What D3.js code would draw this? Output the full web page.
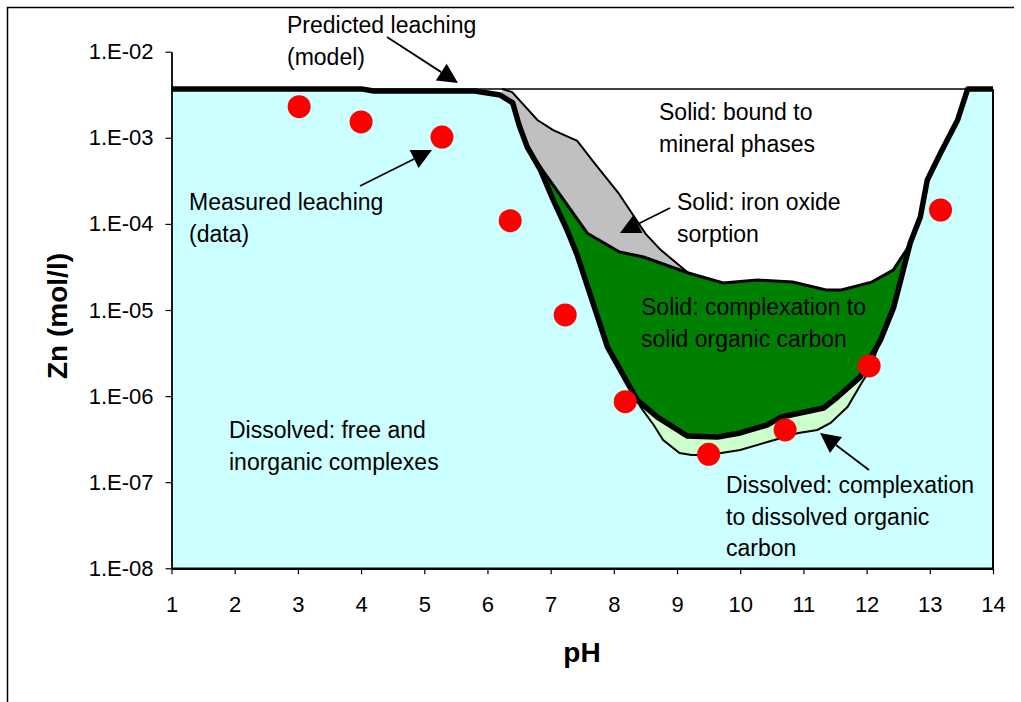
<!DOCTYPE html>
<html>
<head>
<meta charset="utf-8">
<script src="https://cdn.jsdelivr.net/npm/d3@7"></script>
<style>
  body { margin: 0; background: #fff; }
  svg text { font-family: "Liberation Sans", Arial, sans-serif; fill: #000; }
</style>
</head>
<body>
<svg id="chart" width="1021" height="702"></svg>
<script>
// measured leaching (red dots)
var measuredPH = [3.02, 4.0, 5.28, 6.36, 7.23, 8.18, 9.5, 10.71, 12.04, 13.17];
var measuredZn = [2.3e-3, 1.53e-3, 1.02e-3, 1.09e-4, 8.75e-6, 8.6e-7, 2.11e-7, 4.04e-7, 2.24e-6, 1.45e-4];

// predicted leaching (model) = total dissolved, thick line
var predictedPH = [1, 4.0, 4.2, 5.8, 6.2, 6.4, 6.5, 6.63, 6.84, 7.04, 7.26, 7.42, 7.9, 8.37, 8.69, 9.16,
  9.64, 10.0, 10.43, 10.65, 11.32, 11.54, 11.9, 12.22, 12.43, 12.69, 12.85, 12.96, 13.17, 13.44, 13.6, 14];
var predictedZn = [3.7e-3, 3.7e-3, 3.5e-3, 3.5e-3, 3.14e-3, 2.54e-3, 1.41e-3, 7.8e-4, 4.2e-4, 1.9e-4, 8.5e-5, 4.35e-5,
  3.7e-6, 9.0e-7, 5.7e-7, 3.44e-7, 3.35e-7, 3.73e-7, 4.62e-7, 5.72e-7, 7.28e-7, 9.76e-7, 1.67e-6, 4.48e-6,
  1.08e-5, 6.0e-5, 1.2e-4, 3.24e-4, 6.66e-4, 1.61e-3, 3.7e-3, 3.7e-3];

// dissolved free + inorganic (top of cyan), where it departs from the model line
var freePH = [8.37, 8.42, 8.63, 8.78, 9.04, 9.23, 9.5, 10.0, 10.43, 10.92, 11.22, 11.43, 11.7, 11.92, 12.05, 12.22];
var freeZn = [9.0e-7, 7.5e-7, 4.62e-7, 3.09e-7, 2.18e-7, 2.07e-7, 2.07e-7, 2.37e-7, 2.93e-7, 3.73e-7, 4.04e-7,
  4.87e-7, 7.51e-7, 1.42e-6, 2.01e-6, 4.48e-6];

// solid: complexation to solid organic carbon (top of green)
var solidOrgPH = [6.7, 7.58, 8.09, 8.47, 9.18, 9.73, 10.27, 10.83, 11.36, 11.6, 12.08, 12.42, 12.63, 12.69];
var solidOrgZn = [6.35e-4, 7.8e-5, 4.72e-5, 4.13e-5, 2.69e-5, 2.06e-5, 2.23e-5, 2.11e-5, 1.71e-5, 1.71e-5,
  2.11e-5, 2.91e-5, 4.98e-5, 6.0e-5];

// solid: iron oxide sorption (top of grey)
var ironPH = [6.23, 6.39, 6.79, 7.04, 7.42, 7.69, 8.07, 8.5, 8.74, 9.18];
var ironZn = [3.7e-3, 3.4e-3, 1.61e-3, 1.23e-3, 9.2e-4, 5.1e-4, 2.3e-4, 7.7e-5, 5.0e-5, 2.69e-5];

// total (solid bound to mineral phases fills up to here)
var totalPH = [1, 14];
var totalZn = [3.7e-3, 3.7e-3];

var yTicks = [1e-2, 1e-3, 1e-4, 1e-5, 1e-6, 1e-7, 1e-8];
var xTicks = [1, 2, 3, 4, 5, 6, 7, 8, 9, 10, 11, 12, 13, 14];

var svg = d3.select("#chart");

var x = d3.scaleLinear().domain([1, 14]).range([171.5, 993]);
var y = d3.scaleLog().domain([1e-8, 1e-2]).range([568.3, 51.7]);

var zip = function(ph, zn) {
  return ph.map(function(p, i) { return [p, zn[i]]; });
};
var line = d3.line()
  .x(function(d) { return x(d[0]); })
  .y(function(d) { return y(d[1]); });

// polygon from a boundary down to the bottom of the plot
var downTo = function(pts) {
  var p = pts.slice();
  p.push([pts[pts.length - 1][0], 1e-8]);
  p.push([pts[0][0], 1e-8]);
  return line(p) + "Z";
};

var total = zip(totalPH, totalZn),
    iron = zip(ironPH, ironZn),
    solidOrg = zip(solidOrgPH, solidOrgZn),
    predicted = zip(predictedPH, predictedZn),
    free = zip(freePH, freeZn);

// chart frame
svg.append("path").attr("d", "M7.5,702V7.5H1014")
  .attr("fill", "none").attr("stroke", "#000").attr("stroke-width", 1.5);

// stacked regions, painted from the top layer down
svg.append("path").attr("d", downTo(total)).attr("fill", "#fff");
svg.append("path").attr("d", downTo(iron)).attr("fill", "#c0c0c0");
svg.append("path").attr("d", downTo(solidOrg)).attr("fill", "#008000");
svg.append("path").attr("d", downTo(predicted)).attr("fill", "#ccffff");

// DOC band between model line and free/inorganic line
var band = predicted.filter(function(d) { return d[0] >= freePH[0] && d[0] <= freePH[freePH.length - 1]; });
svg.append("path").attr("d", line(band.concat(free.slice().reverse())) + "Z").attr("fill", "#ccffcc");

// region borders
svg.append("path").attr("d", line(total)).attr("fill", "none").attr("stroke", "#000").attr("stroke-width", 1.5);
svg.append("path").attr("d", line([[14, totalZn[1]], [14, 1e-8]]))
  .attr("fill", "none").attr("stroke", "#000").attr("stroke-width", 2);
svg.append("path").attr("d", line(iron)).attr("fill", "none").attr("stroke", "#000").attr("stroke-width", 2);
svg.append("path").attr("d", line(solidOrg)).attr("fill", "none").attr("stroke", "#000").attr("stroke-width", 3);
svg.append("path").attr("d", line(free)).attr("fill", "none").attr("stroke", "#000").attr("stroke-width", 2);
svg.append("path").attr("d", line(predicted)).attr("fill", "none").attr("stroke", "#000")
  .attr("stroke-width", 5.5).attr("stroke-linejoin", "round");

// axes
var yAxis = svg.append("g").attr("transform", "translate(171.5,0)")
  .call(d3.axisLeft(y).tickValues(yTicks).tickSize(6).tickSizeOuter(0).tickPadding(12)
    .tickFormat(function(d) { return "1.E-" + d3.format("02")(Math.round(-Math.log10(d))); }));
var xAxis = svg.append("g").attr("transform", "translate(0,568.3)")
  .call(d3.axisBottom(x).tickValues(xTicks).tickSize(6).tickSizeOuter(0).tickPadding(22)
    .tickFormat(d3.format("d")));
[yAxis, xAxis].forEach(function(g) {
  g.selectAll("text").style("font-size", "22px");
  g.selectAll("line").attr("stroke", "#000").attr("stroke-width", 1.2);
});
yAxis.select(".domain").attr("stroke", "#000").attr("stroke-width", 1.8);
xAxis.select(".domain").attr("stroke", "#000").attr("stroke-width", 2.5);

// axis titles
svg.append("text").attr("x", 582).attr("y", 662).attr("text-anchor", "middle")
  .style("font-size", "28px").style("font-weight", "bold").text("pH");
svg.append("text").attr("transform", "translate(67,316) rotate(-90)").attr("text-anchor", "middle")
  .style("font-size", "28px").style("font-weight", "bold").text("Zn (mol/l)");

// measured data
svg.selectAll(".dot")
  .data(zip(measuredPH, measuredZn))
  .enter().append("circle")
  .attr("class", "dot")
  .attr("cx", function(d) { return x(d[0]); })
  .attr("cy", function(d) { return y(d[1]); })
  .attr("r", 11.5)
  .attr("fill", "#ff0000");

// annotations
var notes = [
  { lines: ["Predicted leaching", "(model)"], x: 287, y: 33 },
  { lines: ["Measured leaching", "(data)"], x: 189, y: 210 },
  { lines: ["Solid: bound to", "mineral phases"], x: 659, y: 120 },
  { lines: ["Solid: iron oxide", "sorption"], x: 677, y: 210 },
  { lines: ["Solid: complexation to", "solid organic carbon"], x: 641, y: 315 },
  { lines: ["Dissolved: free and", "inorganic complexes"], x: 229, y: 438 },
  { lines: ["Dissolved: complexation", "to dissolved organic", "carbon"], x: 726, y: 493 }
];
notes.forEach(function(n) {
  n.lines.forEach(function(t, i) {
    svg.append("text").attr("x", n.x).attr("y", n.y + i * 31.5)
      .style("font-size", "23px").text(t);
  });
});

var arrows = [
  { from: [387, 37], to: [458, 83] },
  { from: [360, 186], to: [432, 150] },
  { from: [670, 208], to: [620, 233] },
  { from: [869, 470], to: [820, 433] }
];
arrows.forEach(function(a) {
  var dx = a.to[0] - a.from[0], dy = a.to[1] - a.from[1];
  var len = Math.sqrt(dx * dx + dy * dy), ux = dx / len, uy = dy / len;
  var bx = a.to[0] - ux * 20, by = a.to[1] - uy * 20;
  svg.append("line").attr("x1", a.from[0]).attr("y1", a.from[1]).attr("x2", bx).attr("y2", by)
    .attr("stroke", "#000").attr("stroke-width", 1.8);
  svg.append("path")
    .attr("d", "M" + a.to[0] + "," + a.to[1] +
      "L" + (bx - uy * 10) + "," + (by + ux * 10) +
      "L" + (bx + uy * 10) + "," + (by - ux * 10) + "Z")
    .attr("fill", "#000");
});
</script>
</body>
</html>
